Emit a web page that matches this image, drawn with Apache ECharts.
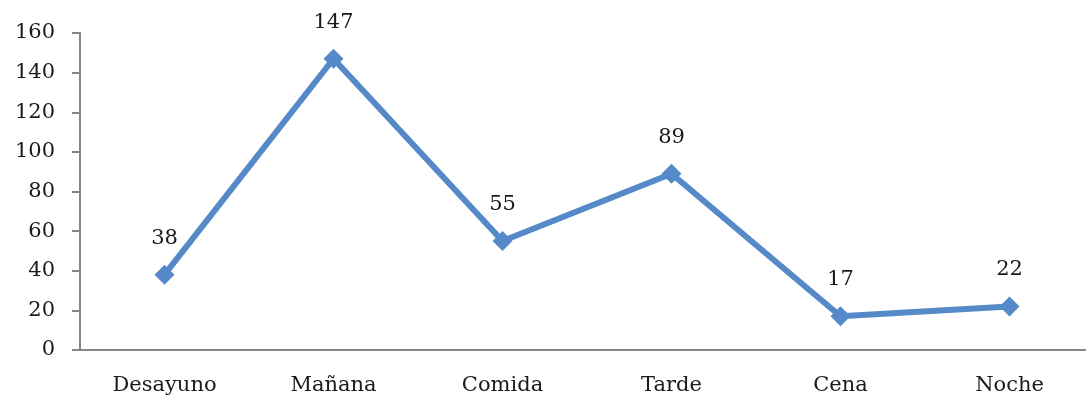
<!DOCTYPE html>
<html>
<head>
<meta charset="utf-8">
<script src="https://cdn.jsdelivr.net/npm/echarts@6/dist/echarts.min.js"></script>
<style>
  html, body { margin: 0; padding: 0; background: #fff; }
  #chart { width: 1086px; height: 400px; }
</style>
</head>
<body>
<div id="chart"></div>
<script>
const categories = ["Desayuno", "Mañana", "Comida", "Tarde", "Cena", "Noche"];
const values = [38, 147, 55, 89, 17, 22];
const yTicks = [0, 20, 40, 60, 80, 100, 120, 140, 160];

const font = "DejaVu Serif";
const lineColor = "#5589C8";
const chart = echarts.init(document.getElementById("chart"));
chart.setOption({
  animation: false,
  // the plot runs a little past the right edge of the picture
  grid: { left: 80, top: 33, width: 1014, height: 317, outerBoundsMode: "none", containLabel: false },
  xAxis: {
    type: "category",
    data: categories,
    boundaryGap: true,
    axisLine: { lineStyle: { color: "#868686", width: 2 } },
    axisTick: { alignWithLabel: false, length: 7, lineStyle: { color: "#868686", width: 2 } },
    axisLabel: { color: "#1a1a1a", fontFamily: font, fontSize: 21, margin: 25 }
  },
  yAxis: {
    type: "value",
    min: yTicks[0],
    max: yTicks[yTicks.length - 1],
    interval: 20,
    splitLine: { show: false },
    axisLine: { show: true, lineStyle: { color: "#868686", width: 2 } },
    axisTick: { show: true, length: 8, lineStyle: { color: "#868686", width: 2 } },
    axisLabel: { color: "#1a1a1a", fontFamily: font, fontSize: 21, margin: 25 }
  },
  series: [{
    type: "line",
    data: values,
    symbol: "diamond",
    symbolSize: 20,
    lineStyle: { color: lineColor, width: 6 },
    itemStyle: { color: lineColor },
    label: {
      show: true,
      position: "top",
      distance: 16,
      color: "#1a1a1a",
      fontFamily: font,
      fontSize: 21
    }
  }]
});
</script>
</body>
</html>
